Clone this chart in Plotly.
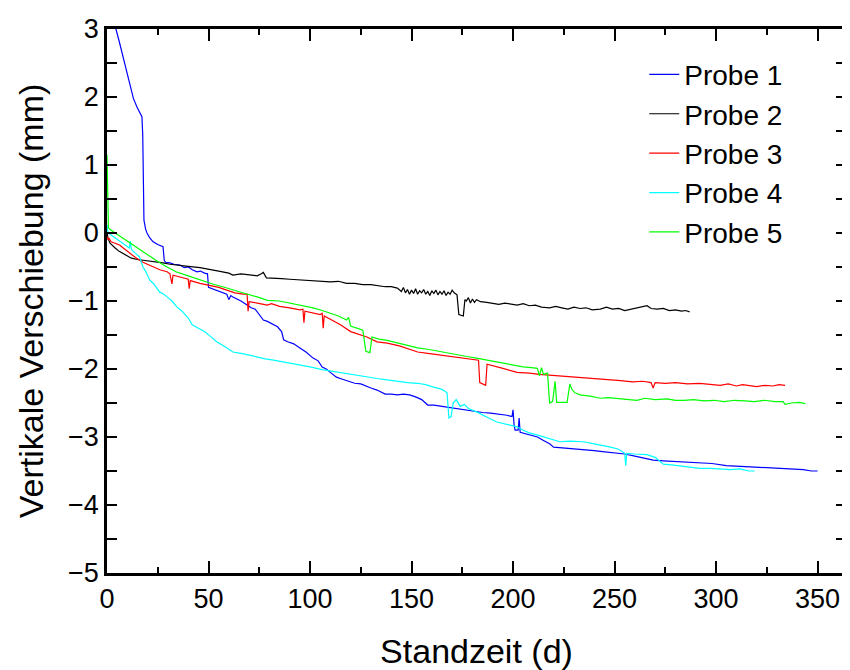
import plotly.graph_objects as go

# (Standzeit d, vertikale Verschiebung mm)
probe1 = [(3, 3.25), (4.4, 3.0), (6, 2.82), (7.4, 2.65), (9, 2.45), (11.3, 2.15), (13, 1.98), (14.8, 1.85),
          (16, 1.78), (17.2, 1.71), (17.6, 1.45), (17.8, 0.95), (18.0, 0.55), (18.2, 0.19), (19, 0.06),
          (19.7, 0.0), (21, -0.07), (22.7, -0.13), (25, -0.17), (27.6, -0.2), (28.2, -0.4), (28.8, -0.43),
          (31, -0.44), (33, -0.46), (36, -0.47), (38, -0.51), (40, -0.5), (42, -0.54), (44.3, -0.57),
          (46, -0.56), (48, -0.59), (49.5, -0.6), (50, -0.8), (53, -0.83), (55, -0.85), (57, -0.88),
          (59, -0.9), (60, -0.98), (61, -0.92), (62, -0.94), (64, -0.97), (66, -1.0), (69, -1.06),
          (71, -1.1), (73, -1.12), (75, -1.2), (77, -1.28), (79, -1.3), (82, -1.35), (84, -1.38),
          (86, -1.45), (87, -1.57), (89, -1.6), (92, -1.63), (95, -1.69), (98, -1.75), (101.5, -1.84),
          (104, -1.88), (106, -1.97), (108, -2.0), (110, -2.05), (113, -2.12), (116, -2.15), (119, -2.18),
          (122, -2.21), (125, -2.22), (128, -2.26), (130, -2.28), (133, -2.31), (135, -2.34), (137, -2.37),
          (140, -2.37), (143, -2.38), (146, -2.37), (149, -2.38), (152, -2.41), (155, -2.45), (158, -2.53),
          (161, -2.53), (165, -2.55), (169, -2.57), (173, -2.58), (177, -2.61), (181, -2.62), (185, -2.64),
          (189, -2.65), (193, -2.66), (197, -2.68), (199.5, -2.7), (200, -2.6), (200.5, -2.82), (201, -2.9),
          (202.5, -2.9), (203, -2.72), (203.5, -2.93), (206, -2.95), (209, -2.98), (212, -3.0), (215, -3.05),
          (218, -3.1), (220, -3.15), (225, -3.16), (230, -3.18), (235, -3.19), (240, -3.2), (243, -3.21),
          (247, -3.22), (251, -3.24), (255, -3.25), (260, -3.28), (265, -3.31), (269, -3.34), (274, -3.35),
          (280, -3.36), (286, -3.37), (292, -3.38), (298, -3.39), (305, -3.42), (312, -3.43), (318, -3.44),
          (325, -3.45), (333, -3.46), (338, -3.47), (343, -3.48), (347, -3.5), (350, -3.5)]

probe2 = [(0, 0.02), (0.5, -0.08), (1.5, -0.15), (3, -0.2), (4, -0.22), (6, -0.27), (8, -0.3), (10, -0.34),
          (12, -0.37), (15, -0.39), (18, -0.4), (21, -0.42), (24, -0.43), (27.6, -0.44), (31, -0.46),
          (35, -0.47), (40, -0.49), (45.8, -0.51), (50, -0.53), (55, -0.56), (60, -0.59), (62, -0.62),
          (66, -0.6), (70, -0.62), (74, -0.63), (76, -0.6), (77, -0.58), (78.5, -0.66), (82, -0.66),
          (86, -0.67), (90, -0.68), (95, -0.69), (100, -0.7), (105, -0.7), (110, -0.72), (114, -0.71),
          (118, -0.74), (122, -0.74), (126, -0.76), (130, -0.76), (134, -0.78), (137, -0.79), (140, -0.79),
          (143, -0.81), (145, -0.86), (146, -0.8), (147, -0.88), (148, -0.83), (149, -0.9), (150, -0.84),
          (151, -0.89), (152, -0.82), (153, -0.9), (154, -0.85), (155, -0.88), (156, -0.83), (157, -0.9),
          (158, -0.86), (159, -0.92), (160, -0.85), (161, -0.89), (162, -0.84), (163, -0.91), (164, -0.86),
          (165, -0.9), (166, -0.85), (167, -0.92), (168, -0.87), (169, -0.9), (170, -0.84), (171, -0.88),
          (172.4, -0.91), (173.3, -1.2), (175.5, -1.22), (176.3, -0.98), (177, -1.0), (178, -0.95),
          (179, -1.03), (180, -0.97), (181, -1.02), (182, -0.98), (184, -1.01), (187, -1.02), (190, -1.03),
          (193, -1.05), (196, -1.03), (199, -1.05), (202, -1.06), (205, -1.04), (208, -1.07), (211, -1.06),
          (214, -1.09), (218, -1.1), (221, -1.08), (224, -1.1), (227, -1.12), (230, -1.09), (233, -1.11),
          (236, -1.1), (239, -1.13), (243, -1.12), (246, -1.09), (249, -1.12), (252, -1.11), (255, -1.14),
          (258, -1.12), (261, -1.11), (264, -1.08), (266, -1.07), (268, -1.11), (271, -1.12), (274, -1.11),
          (277, -1.14), (280, -1.13), (283, -1.15), (285, -1.14), (287, -1.16)]

probe3 = [(0, -0.05), (0.5, -0.1), (1, -0.08), (2, -0.13), (4, -0.15), (6.4, -0.18), (8, -0.22), (10, -0.27),
          (12, -0.32), (14, -0.36), (17.7, -0.43), (20, -0.46), (23, -0.5), (26, -0.54), (29.6, -0.57),
          (31, -0.6), (32, -0.75), (32.5, -0.62), (35, -0.64), (38, -0.66), (40, -0.68), (40.5, -0.82),
          (41, -0.7), (45.8, -0.74), (50, -0.77), (55, -0.8), (59, -0.84), (63, -0.88), (67, -0.9),
          (69, -0.9), (69.5, -1.15), (70, -1.01), (74, -1.03), (79, -1.06), (81, -1.04), (85, -1.08),
          (90, -1.1), (95, -1.13), (96.5, -1.12), (97, -1.32), (97.5, -1.15), (101, -1.17), (105, -1.2),
          (106, -1.18), (106.5, -1.4), (107, -1.22), (111, -1.28), (115, -1.35), (120, -1.45), (124, -1.49),
          (128, -1.53), (133, -1.6), (138, -1.62), (144, -1.66), (148, -1.7), (153, -1.75), (158, -1.77),
          (163, -1.79), (168, -1.81), (173, -1.83), (178, -1.85), (183, -1.87), (183.6, -2.2), (186.5, -2.24),
          (187.2, -1.93), (190, -1.95), (195, -1.99), (202, -2.05), (208, -2.06), (213, -2.08), (218, -2.09),
          (223, -2.1), (228, -2.12), (233, -2.12), (238, -2.13), (243, -2.15), (248, -2.16), (253, -2.17),
          (259, -2.19), (264, -2.18), (268, -2.2), (269, -2.28), (270, -2.2), (275, -2.21), (280, -2.2),
          (286, -2.22), (292, -2.21), (297, -2.22), (302, -2.24), (306, -2.22), (310, -2.25), (313, -2.23),
          (317, -2.25), (320, -2.26), (324, -2.24), (328, -2.25), (331, -2.23), (334, -2.24)]

probe4 = [(0, 0.12), (0.5, 0.0), (1.5, -0.02), (3, -0.05), (5, -0.1), (8, -0.16), (11, -0.22), (11.5, -0.12),
          (12, -0.24), (14, -0.3), (16, -0.35), (17.7, -0.5), (19, -0.56), (21, -0.69), (23, -0.75),
          (26, -0.87), (28, -0.9), (30, -0.95), (32, -1.0), (34.5, -1.09), (37, -1.15), (40, -1.25),
          (42, -1.35), (45, -1.4), (48, -1.45), (51, -1.52), (54, -1.6), (58, -1.67), (62, -1.75),
          (66, -1.77), (70, -1.8), (74, -1.82), (78, -1.85), (82, -1.87), (86, -1.89), (90, -1.91),
          (95, -1.94), (100, -1.97), (106, -2.01), (110, -2.03), (115, -2.06), (120, -2.08), (124, -2.1),
          (128, -2.12), (133, -2.14), (138, -2.16), (144, -2.19), (148, -2.2), (153, -2.21), (157, -2.23),
          (160, -2.26), (163, -2.28), (165, -2.3), (167.5, -2.35), (168.4, -2.72), (169.5, -2.7),
          (170.5, -2.5), (172, -2.45), (174, -2.55), (176, -2.52), (178, -2.58), (182, -2.63), (185, -2.68),
          (188, -2.72), (192, -2.78), (196, -2.81), (202, -2.85), (205, -2.9), (208, -2.94), (213, -2.98),
          (218, -3.03), (223, -3.07), (228, -3.06), (234.5, -3.07), (240, -3.1), (244, -3.12), (248, -3.15),
          (252, -3.18), (255, -3.24), (255.5, -3.42), (256, -3.24), (260, -3.25), (266, -3.26), (270, -3.3),
          (274, -3.4), (278, -3.41), (283, -3.43), (288, -3.44), (292, -3.46), (297, -3.46), (302, -3.47),
          (307, -3.48), (312, -3.47), (316, -3.5), (319, -3.5)]

probe5 = [(0, 1.15), (0.2, 0.7), (0.4, 0.3), (0.7, 0.08), (1.5, 0.05), (2.5, 0.03), (5, -0.03), (8, -0.09),
          (12.8, -0.18), (17, -0.26), (21, -0.34), (25, -0.42), (29.6, -0.5), (34, -0.57), (40, -0.63),
          (45.8, -0.69), (52, -0.75), (57, -0.79), (62, -0.84), (68, -0.89), (74, -0.94), (79, -0.99),
          (85, -1.0), (90, -1.03), (96, -1.06), (101.5, -1.1), (106, -1.14), (110, -1.18), (114, -1.22),
          (118, -1.28), (119, -1.24), (120, -1.37), (123, -1.4), (126, -1.43), (127.5, -1.74), (129.5, -1.76),
          (130.5, -1.53), (134, -1.56), (138, -1.58), (144, -1.62), (148, -1.65), (153, -1.69), (158, -1.71),
          (163, -1.74), (168, -1.76), (173, -1.79), (178, -1.82), (182, -1.84), (187, -1.87), (192, -1.9),
          (197, -1.93), (201, -1.95), (205, -1.97), (209, -1.98), (212, -1.99), (213, -2.1), (214, -1.98),
          (215, -2.08), (217, -2.06), (218, -2.5), (219.5, -2.48), (220.7, -2.18), (221.5, -2.49),
          (223, -2.49), (226.6, -2.49), (228, -2.22), (229, -2.3), (230.5, -2.35), (233, -2.38), (238, -2.4),
          (243, -2.43), (247, -2.42), (251, -2.43), (256, -2.44), (261, -2.46), (265, -2.43), (270, -2.45),
          (276, -2.44), (280, -2.46), (284, -2.46), (289, -2.45), (294, -2.47), (299, -2.46), (304, -2.48),
          (309, -2.46), (314, -2.47), (319, -2.48), (324, -2.46), (329, -2.48), (333, -2.48), (334, -2.52),
          (337, -2.5), (341, -2.49), (344, -2.51)]

names = ["Probe 1", "Probe 2", "Probe 3", "Probe 4", "Probe 5"]
colors = ["#0000FF", "#000000", "#FF0000", "#00FFFF", "#00FF00"]
series = [probe1, probe2, probe3, probe4, probe5]

FONT = "Liberation Sans, Arial, sans-serif"

fig = go.Figure()
for name, col, data in zip(names, colors, series):
    xs = [p[0] for p in data]
    ys = [p[1] for p in data]
    fig.add_trace(go.Scatter(x=xs, y=ys, mode="lines", name=name,
                             line=dict(color=col, width=1.2)))

axis_common = dict(
    showline=True, linecolor="black", linewidth=2.5, mirror="ticks",
    ticks="inside", tickcolor="black", tickwidth=2, showgrid=False, zeroline=False,
    automargin=False,
    tickfont=dict(family=FONT, size=27, color="black"),
)

fig.update_xaxes(range=[0, 364], tick0=0, dtick=50, ticklen=12,
                 minor=dict(ticks="inside", dtick=25, ticklen=6, tickwidth=2, tickcolor="black"),
                 title=dict(text="Standzeit (d)", font=dict(family=FONT, size=34, color="black"), standoff=30),
                 **axis_common)
fig.update_yaxes(range=[-5, 3], tick0=0, dtick=1, ticklen=10,
                 minor=dict(ticks="inside", dtick=0.5, ticklen=10, tickwidth=2, tickcolor="black"),
                 title=dict(text="Vertikale Verschiebung (mm)", font=dict(family=FONT, size=34, color="black"), standoff=15),
                 **axis_common)

# The page body has an 8 px margin, so the figure is 8 px smaller than the window.
fig.update_layout(
    width=842, height=662,
    margin=dict(l=99, r=4, t=21, b=97),
    paper_bgcolor="white", plot_bgcolor="white",
    font=dict(family=FONT, color="black"),
    legend=dict(x=0.727, y=0.962, xanchor="left", yanchor="top",
                bgcolor="rgba(0,0,0,0)", borderwidth=0,
                font=dict(family=FONT, size=28, color="black"),
                tracegroupgap=0, itemwidth=30),
    showlegend=True,
)

fig.write_html("out.html")
